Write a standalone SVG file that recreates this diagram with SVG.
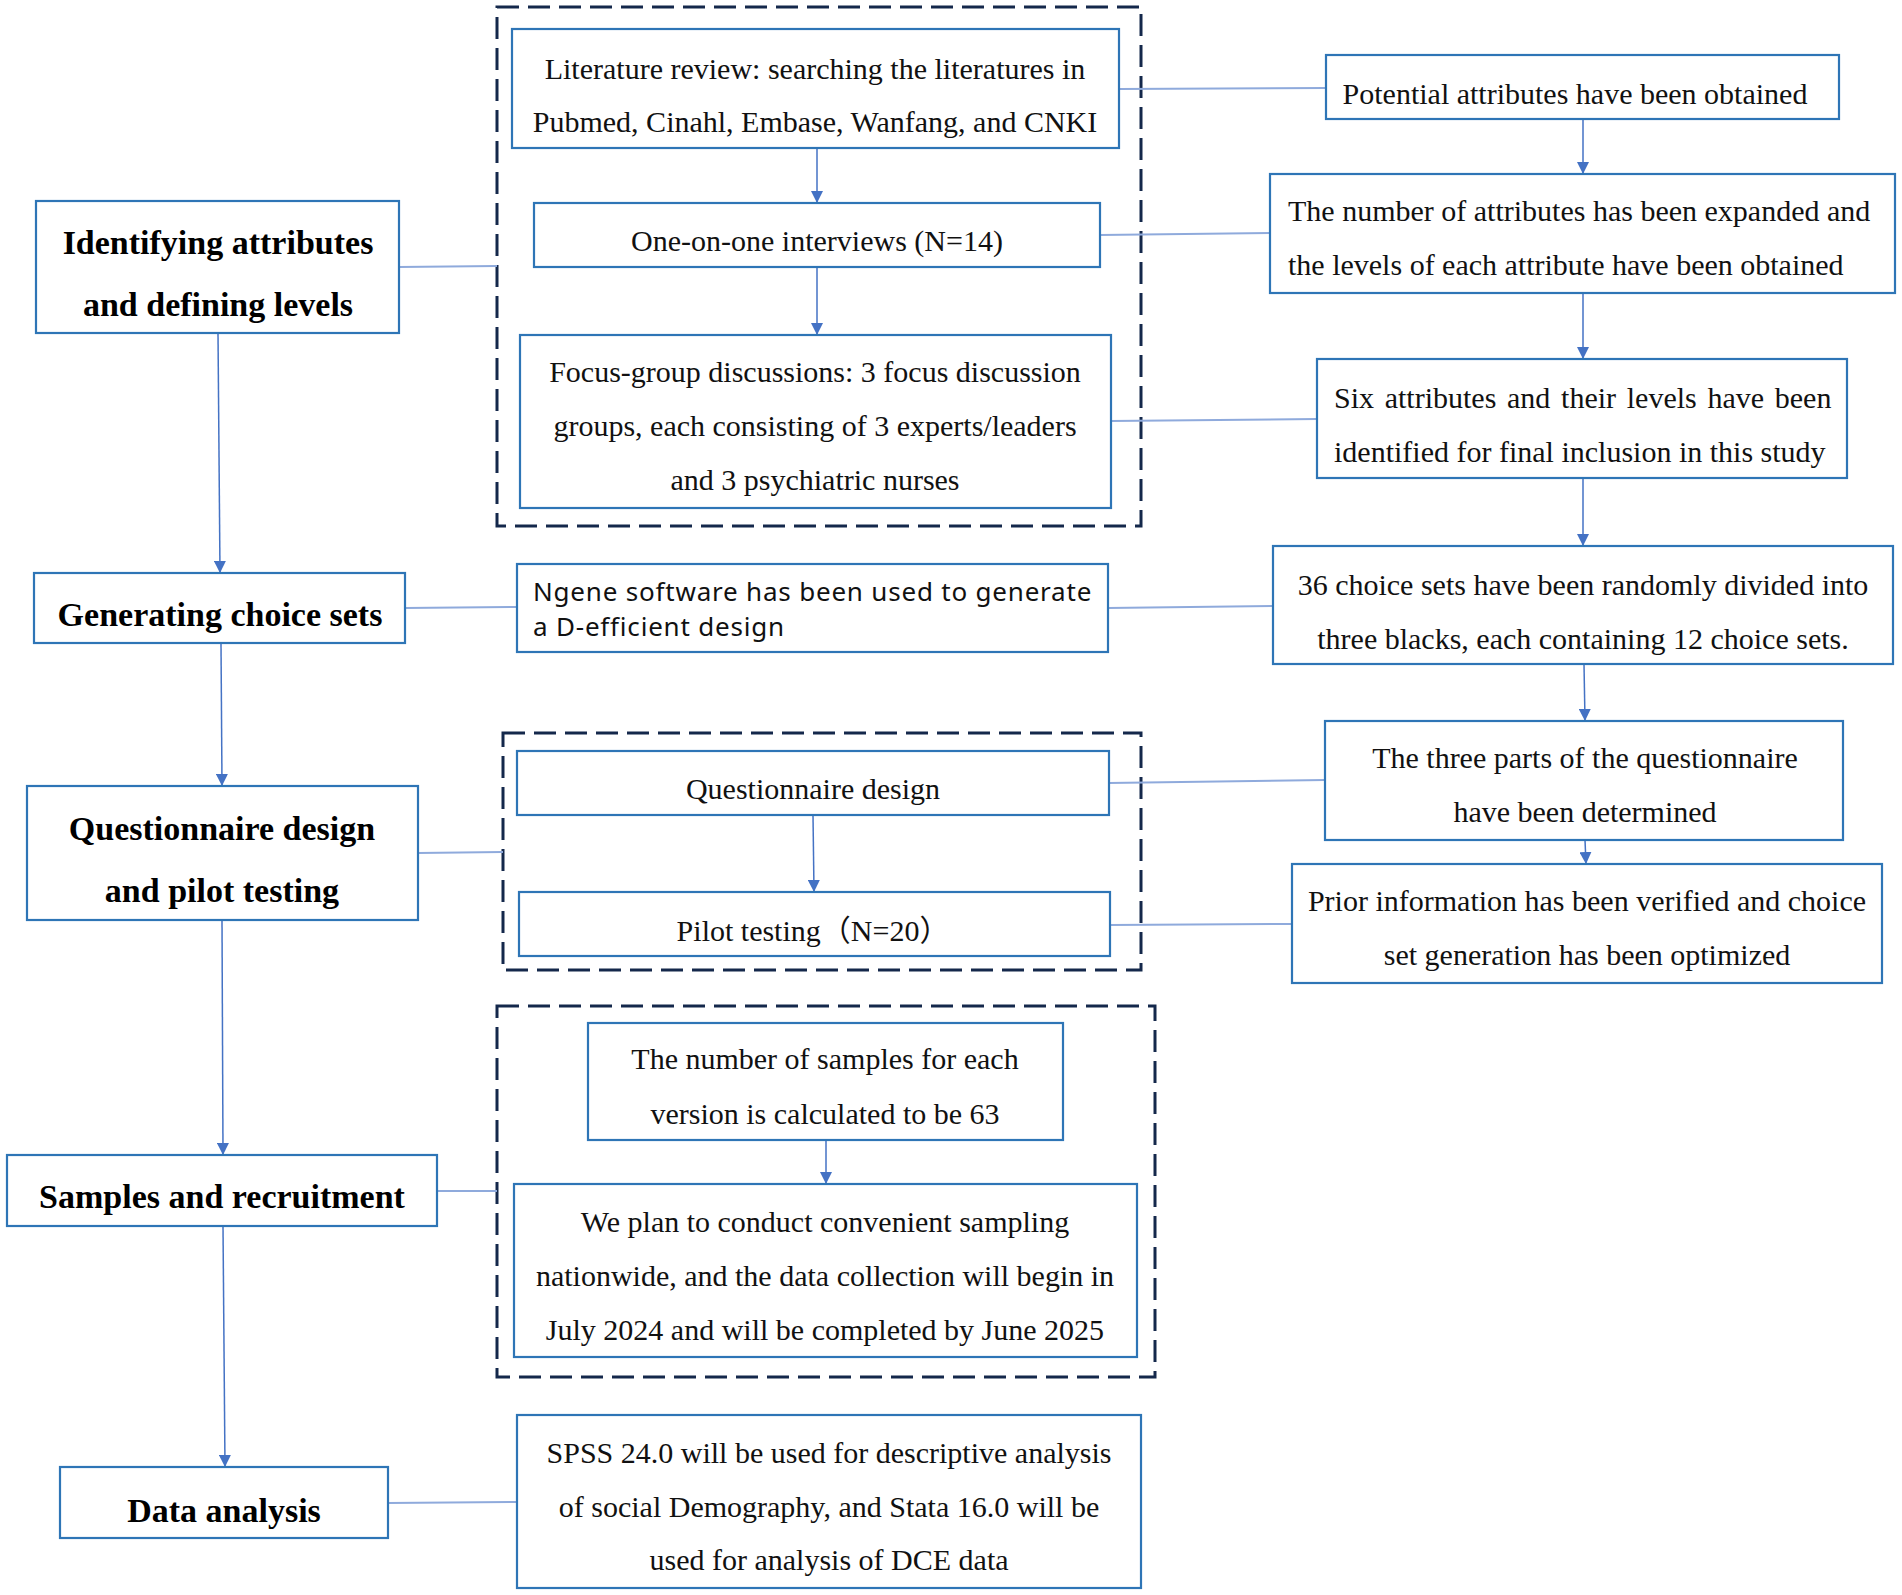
<svg xmlns="http://www.w3.org/2000/svg" width="1902" height="1595" viewBox="0 0 1902 1595">
<style>
.box{fill:#fff;stroke:#2E75B6;stroke-width:2.2}
.dash{fill:none;stroke:#14284B;stroke-width:3;stroke-dasharray:22 9}
.t{font-family:"Liberation Serif","Times New Roman",serif;font-size:30px;fill:#111;text-anchor:middle}
.ts{text-anchor:start}
.b{font-family:"Liberation Serif","Times New Roman",serif;font-size:34px;font-weight:bold;fill:#000;text-anchor:middle}
.s{font-family:"Noto Sans","Open Sans",sans-serif;font-size:26px;letter-spacing:0.8px;fill:#111}
.link{stroke:#8FAADC;stroke-width:2;fill:none}
.arr{stroke:#4472C4;stroke-width:1.5;fill:none;marker-end:url(#ah)}
</style>
<defs>
<marker id="ah" markerUnits="userSpaceOnUse" markerWidth="12" markerHeight="12" refX="12" refY="6" orient="auto">
<path d="M0,0 L12,6 L0,12 z" fill="#4472C4"/>
</marker>
</defs>
<rect width="1902" height="1595" fill="#fff"/>

<g id="groups">
<rect class="dash" x="497" y="7" width="644" height="519"/>
<rect class="dash" x="503" y="733" width="638" height="237"/>
<rect class="dash" x="497" y="1006" width="658" height="371"/>
</g>

<g id="connectors">
<line class="arr" x1="218" y1="333" x2="220" y2="573"/>
<line class="arr" x1="221" y1="643" x2="222" y2="786"/>
<line class="arr" x1="222" y1="920" x2="223" y2="1155"/>
<line class="arr" x1="223" y1="1226" x2="225" y2="1467"/>
<line class="arr" x1="817" y1="148" x2="817" y2="203"/>
<line class="arr" x1="817" y1="267" x2="817" y2="335"/>
<line class="arr" x1="813" y1="815" x2="814" y2="892"/>
<line class="arr" x1="826" y1="1140" x2="826" y2="1184"/>
<line class="arr" x1="1583" y1="119" x2="1583" y2="174"/>
<line class="arr" x1="1583" y1="293" x2="1583" y2="359"/>
<line class="arr" x1="1583" y1="478" x2="1583" y2="546"/>
<line class="arr" x1="1584" y1="664" x2="1585" y2="721"/>
<line class="arr" x1="1585" y1="840" x2="1586" y2="864"/>
<line class="link" x1="399" y1="267" x2="497" y2="266"/>
<line class="link" x1="405" y1="608" x2="517" y2="607"/>
<line class="link" x1="418" y1="853" x2="503" y2="852"/>
<line class="link" x1="437" y1="1191" x2="497" y2="1191"/>
<line class="link" x1="388" y1="1503" x2="517" y2="1502"/>
<line class="link" x1="1119" y1="89" x2="1326" y2="88"/>
<line class="link" x1="1100" y1="235" x2="1270" y2="233"/>
<line class="link" x1="1111" y1="421" x2="1317" y2="419"/>
<line class="link" x1="1108" y1="608" x2="1273" y2="606"/>
<line class="link" x1="1109" y1="783" x2="1325" y2="780"/>
<line class="link" x1="1110" y1="925" x2="1292" y2="924"/>
</g>

<g id="L1"><rect class="box" x="36" y="201" width="363" height="132"/>
<text class="b" x="218" y="254">Identifying attributes</text>
<text class="b" x="218" y="316">and defining levels</text></g>
<g id="L2"><rect class="box" x="34" y="573" width="371" height="70"/>
<text class="b" x="220" y="626">Generating choice sets</text></g>
<g id="L3"><rect class="box" x="27" y="786" width="391" height="134"/>
<text class="b" x="222" y="840">Questionnaire design</text>
<text class="b" x="222" y="902">and pilot testing</text></g>
<g id="L4"><rect class="box" x="7" y="1155" width="430" height="71"/>
<text class="b" x="222" y="1208">Samples and recruitment</text></g>
<g id="L5"><rect class="box" x="60" y="1467" width="328" height="71"/>
<text class="b" x="224" y="1522">Data analysis</text></g>

<g id="M1"><rect class="box" x="512" y="29" width="607" height="119"/>
<text class="t" x="815" y="79">Literature review: searching the literatures in</text>
<text class="t" x="815" y="132">Pubmed, Cinahl, Embase, Wanfang, and CNKI</text></g>
<g id="M2"><rect class="box" x="534" y="203" width="566" height="64"/>
<text class="t" x="817" y="251">One-on-one interviews (N=14)</text></g>
<g id="M3"><rect class="box" x="520" y="335" width="591" height="173"/>
<text class="t" x="815" y="382">Focus-group discussions: 3 focus discussion</text>
<text class="t" x="815" y="436">groups, each consisting of 3 experts/leaders</text>
<text class="t" x="815" y="490">and 3 psychiatric nurses</text></g>
<g id="M4"><rect class="box" x="517" y="564" width="591" height="88"/>
<text class="s" x="533" y="601">Ngene software has been used to generate</text>
<text class="s" x="533" y="636">a D-efficient design</text></g>
<g id="M5"><rect class="box" x="517" y="751" width="592" height="64"/>
<text class="t" x="813" y="799">Questionnaire design</text></g>
<g id="M6"><rect class="box" x="519" y="892" width="591" height="64"/>
<text class="t" x="813" y="941" style="font-family:'Liberation Serif','Noto Sans CJK SC',serif">Pilot testing（N=20）</text></g>
<g id="M7"><rect class="box" x="588" y="1023" width="475" height="117"/>
<text class="t" x="825" y="1069">The number of samples for each</text>
<text class="t" x="825" y="1124">version is calculated to be 63</text></g>
<g id="M8"><rect class="box" x="514" y="1184" width="623" height="173"/>
<text class="t" x="825" y="1232">We plan to conduct convenient sampling</text>
<text class="t" x="825" y="1286">nationwide, and the data collection will begin in</text>
<text class="t" x="825" y="1340">July 2024 and will be completed by June 2025</text></g>
<g id="M9"><rect class="box" x="517" y="1415" width="624" height="173"/>
<text class="t" x="829" y="1463">SPSS 24.0 will be used for descriptive analysis</text>
<text class="t" x="829" y="1517">of social Demography, and Stata 16.0 will be</text>
<text class="t" x="829" y="1570">used for analysis of DCE data</text></g>

<g id="R1"><rect class="box" x="1326" y="55" width="513" height="64"/>
<text class="t" x="1575" y="104">Potential attributes have been obtained</text></g>
<g id="R2"><rect class="box" x="1270" y="174" width="625" height="119"/>
<text class="t ts" x="1288" y="221">The number of attributes has been expanded and</text>
<text class="t ts" x="1288" y="275">the levels of each attribute have been obtained</text></g>
<g id="R3"><rect class="box" x="1317" y="359" width="530" height="119"/>
<text class="t ts" x="1334" y="408" word-spacing="3.2">Six attributes and their levels have been</text>
<text class="t ts" x="1334" y="462">identified for final inclusion in this study</text></g>
<g id="R4"><rect class="box" x="1273" y="546" width="620" height="118"/>
<text class="t" x="1583" y="595">36 choice sets have been randomly divided into</text>
<text class="t" x="1583" y="649">three blacks, each containing 12 choice sets.</text></g>
<g id="R5"><rect class="box" x="1325" y="721" width="518" height="119"/>
<text class="t" x="1585" y="768">The three parts of the questionnaire</text>
<text class="t" x="1585" y="822">have been determined</text></g>
<g id="R6"><rect class="box" x="1292" y="864" width="590" height="119"/>
<text class="t" x="1587" y="911">Prior information has been verified and choice</text>
<text class="t" x="1587" y="965">set generation has been optimized</text></g>
</svg>
